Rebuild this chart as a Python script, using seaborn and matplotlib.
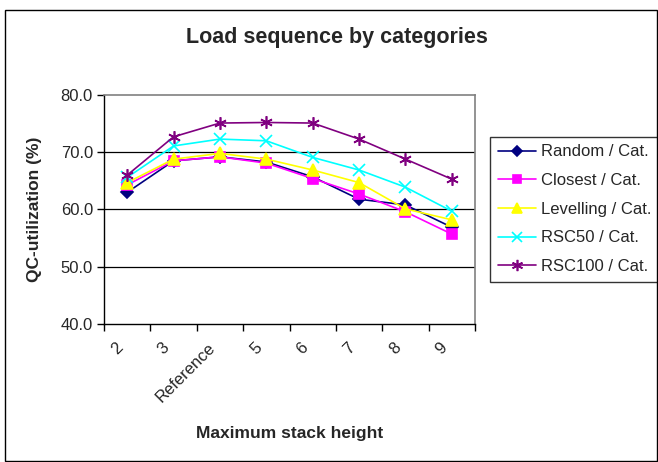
import matplotlib
matplotlib.use("Agg")
import matplotlib.pyplot as plt
import matplotlib.transforms as mtransforms
import seaborn as sns
import pandas as pd
from matplotlib.patches import Rectangle
from matplotlib.ticker import FixedLocator

categories = ["2", "3", "Reference", "5", "6", "7", "8", "9"]
random_cat = [63.0, 68.5, 69.2, 68.3, 65.7, 61.8, 60.8, 56.9]
closest_cat = [64.3, 68.5, 69.2, 68.1, 65.4, 62.7, 59.6, 55.7]
levelling_cat = [64.7, 68.8, 69.8, 68.8, 66.9, 64.7, 60.1, 58.2]
rsc50_cat = [65.6, 71.1, 72.3, 72.0, 69.1, 66.9, 63.9, 59.7]
rsc100_cat = [66.0, 72.7, 75.1, 75.2, 75.1, 72.3, 68.8, 65.3]

series_names = ["Random / Cat.", "Closest / Cat.", "Levelling / Cat.", "RSC50 / Cat.", "RSC100 / Cat."]
series_values = [random_cat, closest_cat, levelling_cat, rsc50_cat, rsc100_cat]
colors = ["#000080", "#FF00FF", "#FFFF00", "#00FFFF", "#800080"]
markers = ["D", "s", "^", "x", (6, 2, 0)]
msizes = [6, 7, 8, 8, 9]

sns.set_theme(style="white")
plt.rcParams["font.family"] = ["Liberation Sans", "DejaVu Sans"]

fig = plt.figure(figsize=(6.58, 4.62), dpi=100)
W, H = 658, 462
ax = fig.add_axes([104 / W, 1 - 324 / H, (475 - 104) / W, (324 - 95) / H])

for name, vals, c, m, ms in zip(series_names, series_values, colors, markers, msizes):
    df = pd.DataFrame({"x": categories, "y": vals})
    sns.lineplot(data=df, x="x", y="y", ax=ax, sort=False, color=c, marker=m,
                 markersize=ms, markeredgecolor=c, markerfacecolor=c,
                 markeredgewidth=1.2, linewidth=1.2, label=name)

ax.set_xlim(-0.5, len(categories) - 0.5)
ax.set_ylim(40, 80)
ax.set_yticks([40, 50, 60, 70, 80])
ax.set_yticklabels(["40.0", "50.0", "60.0", "70.0", "80.0"])
for yv in [50, 60, 70]:
    ax.axhline(yv, color="black", linewidth=0.9, zorder=0)

ax.xaxis.set_minor_locator(FixedLocator([i - 0.5 for i in range(len(categories) + 1)]))
ax.tick_params(axis="x", which="major", length=0, pad=6, labelsize=12)
ax.tick_params(axis="x", which="minor", length=5, width=1, color="black", direction="out", bottom=True)
ax.tick_params(axis="y", which="major", length=5, width=1, color="black", direction="out", left=True, labelsize=12, pad=3)
offset = mtransforms.ScaledTranslation(-7 / 100, -13 / 100, fig.dpi_scale_trans)
for lab in ax.get_xticklabels():
    lab.set_rotation(45)
    lab.set_ha("right")
    lab.set_va("center")
    lab.set_rotation_mode("anchor")
    lab.set_transform(lab.get_transform() + offset)

for s in ["left", "bottom"]:
    ax.spines[s].set_color("black")
    ax.spines[s].set_linewidth(1.0)
for s in ["top", "right"]:
    ax.spines[s].set_color("#808080")
    ax.spines[s].set_linewidth(1.2)

ax.set_xlabel("Maximum stack height", fontsize=12.5, fontweight="bold")
ax.set_ylabel("QC-utilization (%)", fontsize=12.5, fontweight="bold")
ax.xaxis.set_label_coords(0.5, -0.445)
ax.yaxis.set_label_coords(-0.168, 0.5)

fig.text(337 / W, 1 - 38 / H, "Load sequence by categories", ha="center", va="center",
         fontsize=15.5, fontweight="bold")

leg = ax.legend(loc="upper left", bbox_to_anchor=(490 / W, 1 - 137 / H),
                bbox_transform=fig.transFigure, frameon=True, fancybox=False,
                shadow=False, fontsize=12, handlelength=2.3, handletextpad=0.3,
                labelspacing=0.82, borderpad=0.45, borderaxespad=0, markerscale=0.9)
leg.get_frame().set_edgecolor("black")
leg.get_frame().set_linewidth(1.0)

fig.patches.append(Rectangle((5 / W, 1 / H), (657 - 5) / W, (461 - 10) / H,
                             transform=fig.transFigure, fill=False,
                             edgecolor="black", linewidth=1.0))

fig.savefig("out.png", dpi=100)
